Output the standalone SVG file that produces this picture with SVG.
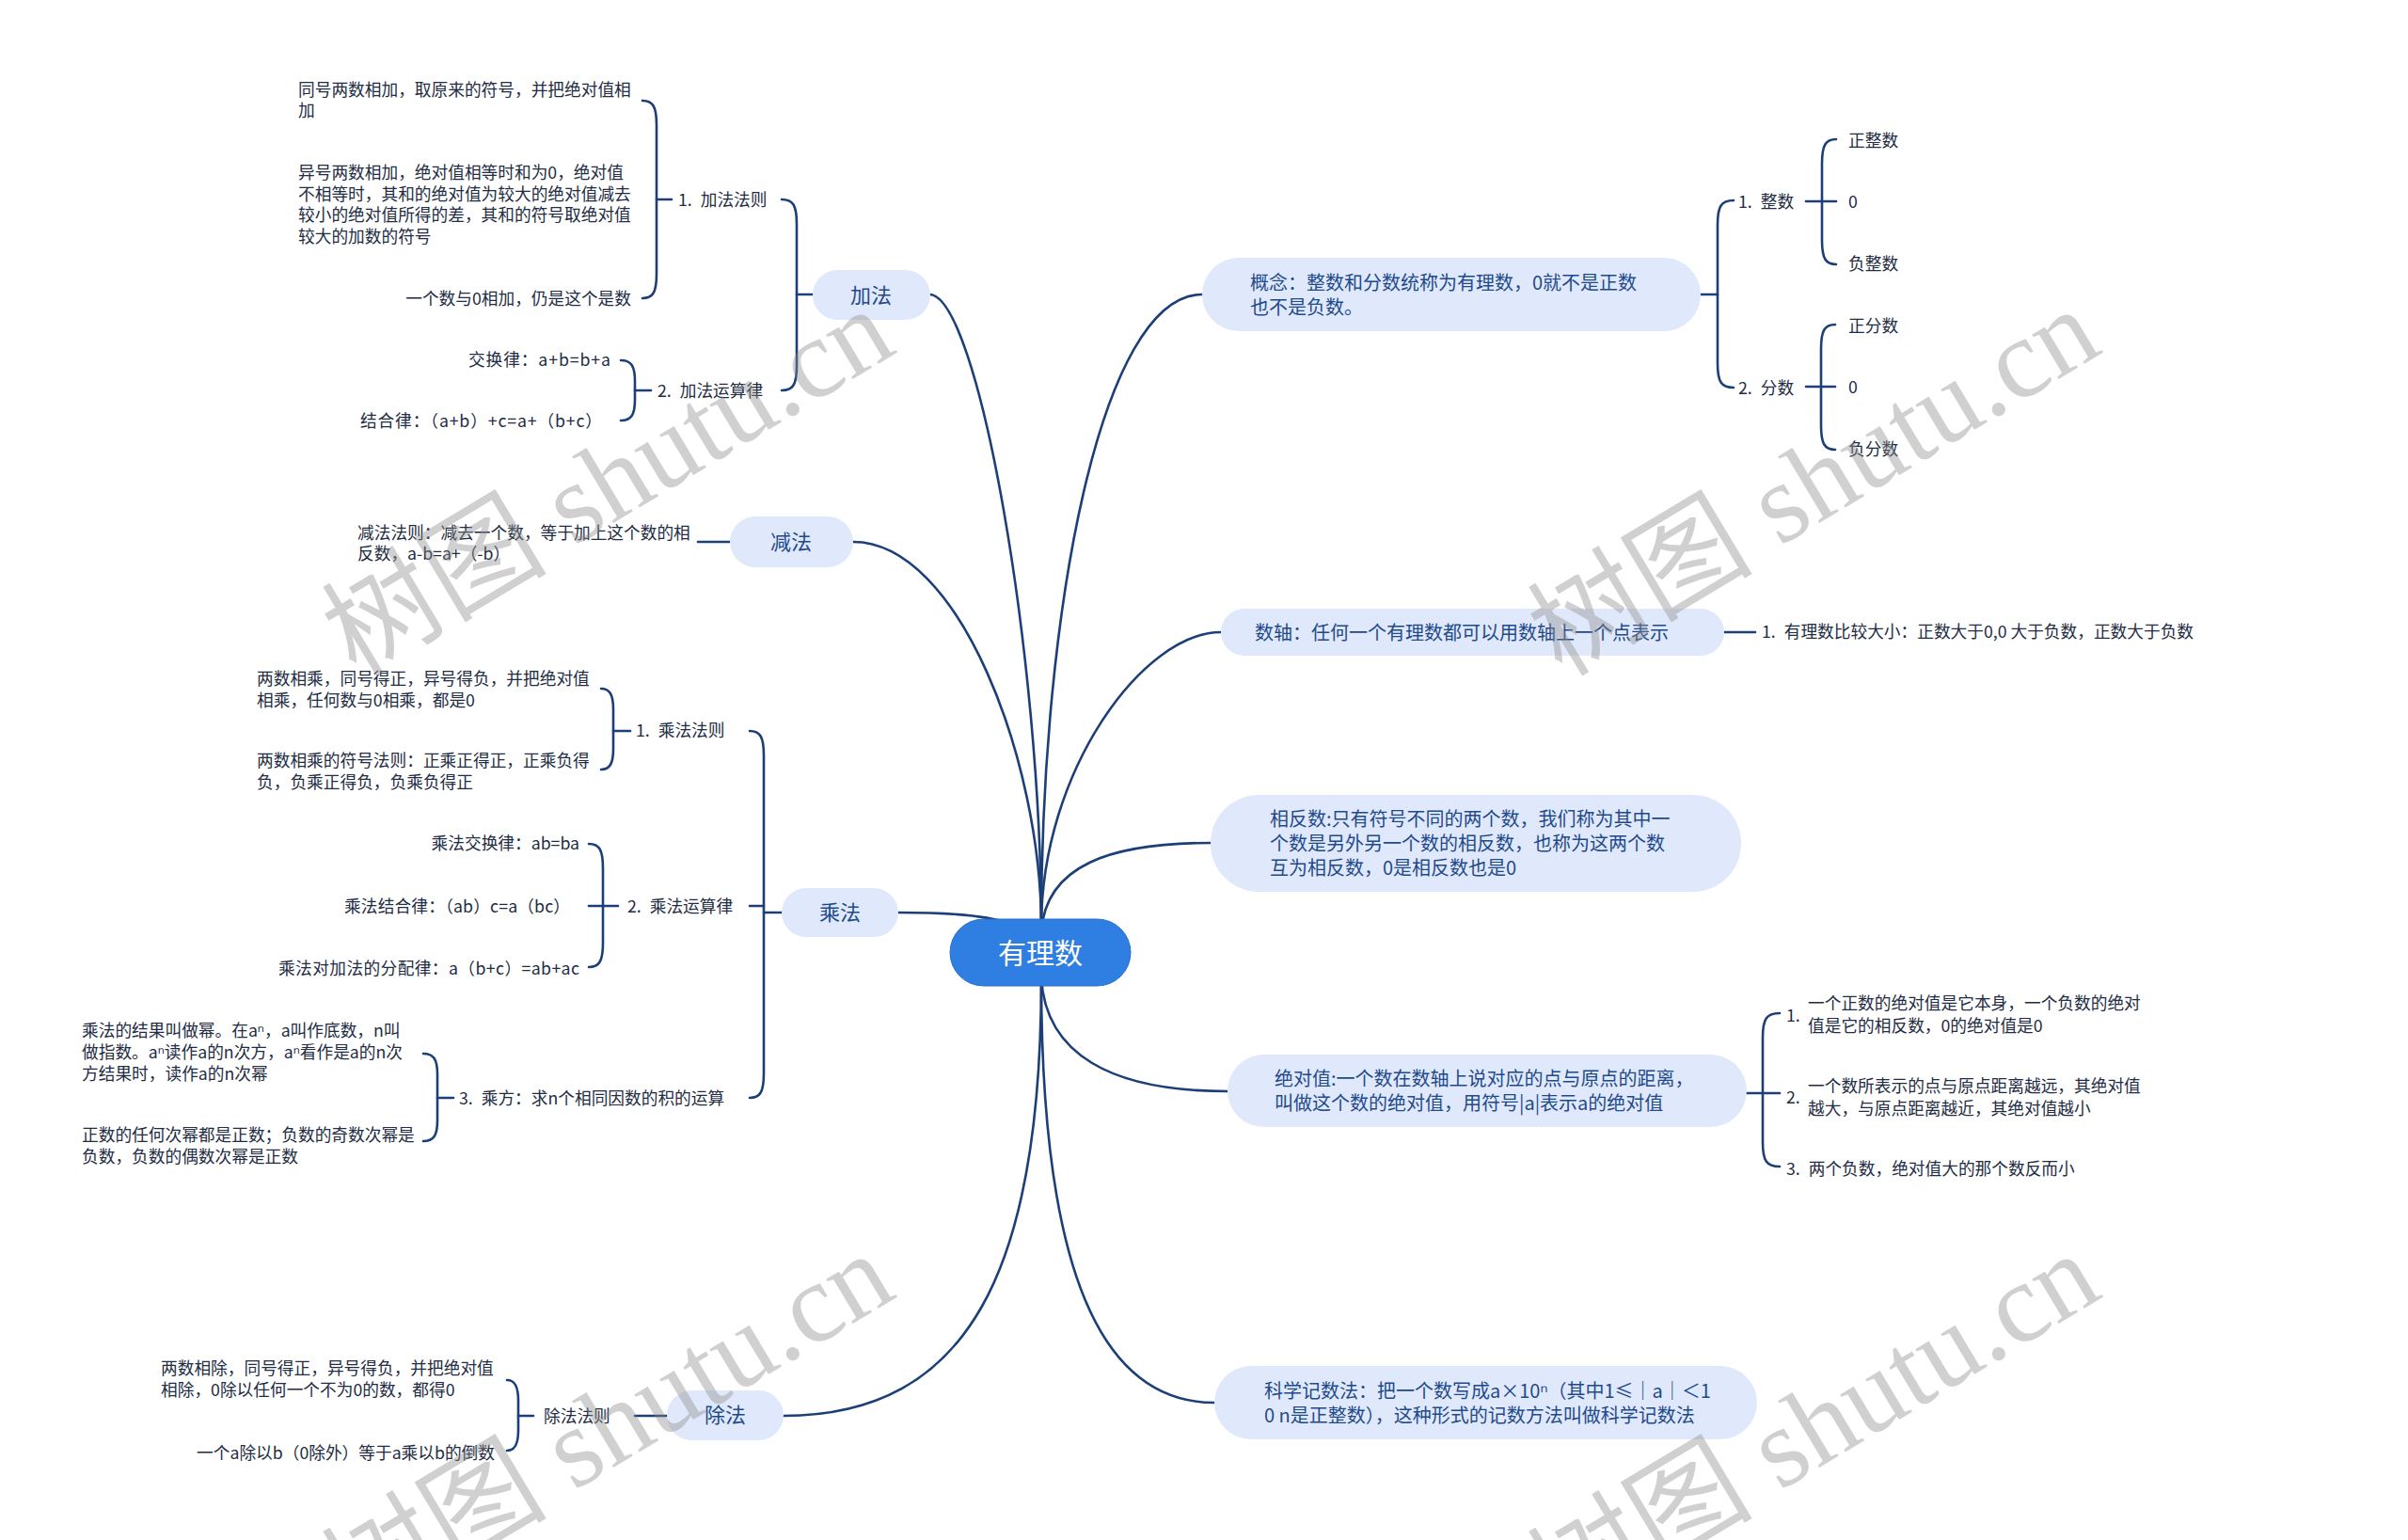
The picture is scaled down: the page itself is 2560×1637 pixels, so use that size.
<svg xmlns="http://www.w3.org/2000/svg" width="2560" height="1637" viewBox="0 0 2560 1637">
<style>
.conn{fill:none;stroke:#1c3f78;stroke-width:2.6;stroke-linecap:round}
.br{fill:none;stroke:#1c3f78;stroke-width:2.6;stroke-linecap:round}
.box{fill:#e0e9fb}
.nt{font-family:"Noto Sans CJK SC","Noto Sans",sans-serif;font-size:20px;fill:#1f4a8c}
.mt{font-family:"Noto Sans CJK SC","Noto Sans",sans-serif;font-size:22px;fill:#1f4a8c;text-anchor:middle}
.lt{font-family:"Noto Sans CJK SC","Noto Sans",sans-serif;font-size:17.7px;fill:#222c44}
.end{text-anchor:end}
.wm{font-family:"Liberation Serif","Noto Sans CJK SC",serif;font-size:120px;fill:#8c8c8c;opacity:0.4;text-anchor:middle}
</style>
<rect width="2560" height="1637" fill="#ffffff"/>
<g id="connectors">
<path class="conn" d="M988 313 C1040 313 1107 700 1107 985"/>
<path class="conn" d="M907 576 C1020 576 1107 810 1107 985"/>
<path class="conn" d="M955 970 C1030 970 1080 975 1107 1000"/>
<path class="conn" d="M1278 313 C1170 313 1107 650 1107 985"/>
<path class="conn" d="M1298 672 C1215 672 1107 820 1107 985"/>
<path class="conn" d="M1287 896 C1180 896 1112 920 1107 990"/>
<path class="conn" d="M1107 1040 C1112 1120 1180 1160 1305 1160"/>
<path class="conn" d="M1107 1040 C1107 1350 1170 1491 1291 1491"/>
<path class="conn" d="M1107 1040 C1107 1350 1030 1505 833 1505"/>
<path class="br" d="M1808 313 H1826"/>
<path class="br" d="M1843 213 C1830 213 1826 219 1826 239 L1826 386 C1826 406 1830 412 1843 412"/>
<path class="br" d="M1920 214 H1952"/>
<path class="br" d="M1952 148 C1941 148 1937 154 1937 174 L1937 255 C1937 275 1941 281 1952 281"/>
<path class="br" d="M1920 411 H1951"/>
<path class="br" d="M1951 345 C1940 345 1936 351 1936 371 L1936 452 C1936 472 1940 478 1951 478"/>
<path class="br" d="M1833 672 H1866"/>
<path class="br" d="M1857 1162 H1892"/>
<path class="br" d="M1892 1077 C1878 1077 1874 1083 1874 1103 L1874 1214 C1874 1234 1878 1240 1892 1240"/>
<path class="br" d="M864 313 H847"/>
<path class="br" d="M831 212 C843 212 847 218 847 238 L847 389 C847 409 843 415 831 415"/>
<path class="br" d="M698 212 H714"/>
<path class="br" d="M683 107 C694 107 698 113 698 133 L698 291 C698 311 694 317 683 317"/>
<path class="br" d="M675 415 H692"/>
<path class="br" d="M660 383 C671 383 675 389 675 405 L675 425 C675 441 671 447 660 447"/>
<path class="br" d="M776 576 H742"/>
<path class="br" d="M831 970 H812"/>
<path class="br" d="M812 963 H797"/>
<path class="br" d="M797 777 C808 777 812 783 812 803 L812 1141 C812 1161 808 1167 797 1167"/>
<path class="br" d="M652 777 H670"/>
<path class="br" d="M639 732 C648 732 652 738 652 754 L652 796 C652 812 648 818 639 818"/>
<path class="br" d="M626 963 H657"/>
<path class="br" d="M626 897 C637 897 641 903 641 923 L641 1002 C641 1022 637 1028 626 1028"/>
<path class="br" d="M465 1167 H482"/>
<path class="br" d="M450 1120 C461 1120 465 1126 465 1142 L465 1191 C465 1207 461 1213 450 1213"/>
<path class="br" d="M709 1505 H675"/>
<path class="br" d="M551 1505 H567"/>
<path class="br" d="M539 1467 C547 1467 551 1473 551 1489 L551 1520 C551 1536 547 1542 539 1542"/>
</g>
<g id="root">
<rect x="1010" y="977" width="192" height="71" rx="35.5" fill="#2f7ee2" stroke="#2a6fcf" stroke-width="1"/>
<text x="1106" y="1024" font-family="Noto Sans CJK SC,sans-serif" font-size="30" fill="#ffffff" text-anchor="middle">有理数</text>
</g>
<g id="node-jiafa">
<rect class="box" x="864" y="287" width="125" height="53" rx="26.5"/>
<text class="mt" x="926" y="322">加法</text>
</g>
<g id="node-jiafa-rule">
<text class="lt" x="721" y="218.5">1.<tspan dx="9">加法法则</tspan></text>
</g>
<g id="leaf-jiafa-1">
<text class="lt" x="317" y="101.5">同号两数相加，取原来的符号，并把绝对值相</text>
<text class="lt" x="317" y="123.5">加</text>
</g>
<g id="leaf-jiafa-2">
<text class="lt" x="317" y="189.5">异号两数相加，绝对值相等时和为0，绝对值</text>
<text class="lt" x="317" y="212.5">不相等时，其和的绝对值为较大的绝对值减去</text>
<text class="lt" x="317" y="234.5">较小的绝对值所得的差，其和的符号取绝对值</text>
<text class="lt" x="317" y="257.5">较大的加数的符号</text>
</g>
<g id="leaf-jiafa-3">
<text class="lt end" x="671" y="323.5">一个数与0相加，仍是这个是数</text>
</g>
<g id="node-jiafa-law">
<text class="lt" x="699" y="421.5">2.<tspan dx="9">加法运算律</tspan></text>
</g>
<g id="leaf-jiafa-law-1">
<text class="lt" x="498" y="388.5" textLength="151" lengthAdjust="spacing">交换律：a+b=b+a</text>
</g>
<g id="leaf-jiafa-law-2">
<text class="lt" x="383" y="453.5" textLength="257" lengthAdjust="spacing">结合律：（a+b）+c=a+（b+c）</text>
</g>
<g id="node-jianfa">
<rect class="box" x="776" y="549" width="131" height="54" rx="27"/>
<text class="mt" x="841" y="584">减法</text>
</g>
<g id="leaf-jianfa">
<text class="lt" x="380" y="572.5">减法法则：减去一个数，等于加上这个数的相</text>
<text class="lt" x="380" y="594.5">反数，a-b=a+（-b）</text>
</g>
<g id="node-chengfa">
<rect class="box" x="831" y="944" width="124" height="52" rx="26"/>
<text class="mt" x="893" y="978">乘法</text>
</g>
<g id="node-chengfa-rule">
<text class="lt" x="676" y="782.5">1.<tspan dx="9">乘法法则</tspan></text>
</g>
<g id="leaf-chengfa-rule-1">
<text class="lt" x="273" y="727.5">两数相乘，同号得正，异号得负，并把绝对值</text>
<text class="lt" x="273" y="750.5">相乘，任何数与0相乘，都是0</text>
</g>
<g id="leaf-chengfa-rule-2">
<text class="lt" x="273" y="814.5">两数相乘的符号法则：正乘正得正，正乘负得</text>
<text class="lt" x="273" y="837.5">负，负乘正得负，负乘负得正</text>
</g>
<g id="node-chengfa-law">
<text class="lt" x="667" y="969.5">2.<tspan dx="9">乘法运算律</tspan></text>
</g>
<g id="leaf-chengfa-law-1">
<text class="lt end" x="616" y="902.5">乘法交换律：ab=ba</text>
</g>
<g id="leaf-chengfa-law-2">
<text class="lt" x="366" y="969.5" textLength="240" lengthAdjust="spacing">乘法结合律：（ab）c=a（bc）</text>
</g>
<g id="leaf-chengfa-law-3">
<text class="lt" x="296" y="1035.5" textLength="320" lengthAdjust="spacing">乘法对加法的分配律：a（b+c）=ab+ac</text>
</g>
<g id="node-chengfang">
<text class="lt" x="488" y="1173.5">3.<tspan dx="9">乘方：求n个相同因数的积的运算</tspan></text>
</g>
<g id="leaf-chengfang-1">
<text class="lt" x="87" y="1101.5">乘法的结果叫做幂。在aⁿ，a叫作底数，n叫</text>
<text class="lt" x="87" y="1124.5">做指数。aⁿ读作a的n次方，aⁿ看作是a的n次</text>
<text class="lt" x="87" y="1147.5">方结果时，读作a的n次幂</text>
</g>
<g id="leaf-chengfang-2">
<text class="lt" x="87" y="1212.5">正数的任何次幂都是正数；负数的奇数次幂是</text>
<text class="lt" x="87" y="1235.5">负数，负数的偶数次幂是正数</text>
</g>
<g id="node-chufa">
<rect class="box" x="709" y="1478" width="124" height="53" rx="26.5"/>
<text class="mt" x="771" y="1512">除法</text>
</g>
<g id="node-chufa-rule">
<text class="lt" x="578" y="1511.5">除法法则</text>
</g>
<g id="leaf-chufa-1">
<text class="lt" x="171" y="1460.5">两数相除，同号得正，异号得负，并把绝对值</text>
<text class="lt" x="171" y="1483.5">相除，0除以任何一个不为0的数，都得0</text>
</g>
<g id="leaf-chufa-2">
<text class="lt end" x="526" y="1550.5">一个a除以b（0除外）等于a乘以b的倒数</text>
</g>
<g id="node-gainian">
<rect class="box" x="1278" y="274" width="530" height="78" rx="39"/>
<text class="nt" x="1329" y="307.5">概念：整数和分数统称为有理数，0就不是正数</text>
<text class="nt" x="1329" y="333.5">也不是负数。</text>
</g>
<g id="node-zhengshu">
<text class="lt" x="1848" y="220.5">1.<tspan dx="9">整数</tspan></text>
</g>
<g id="leaf-zhengshu">
<text class="lt" x="1965" y="155.5">正整数</text>
<text class="lt" x="1965" y="221">0</text>
<text class="lt" x="1965" y="286.5">负整数</text>
</g>
<g id="node-fenshu">
<text class="lt" x="1848" y="418.5">2.<tspan dx="9">分数</tspan></text>
</g>
<g id="leaf-fenshu">
<text class="lt" x="1965" y="352.5">正分数</text>
<text class="lt" x="1965" y="418">0</text>
<text class="lt" x="1965" y="483.5">负分数</text>
</g>
<g id="node-shuzhou">
<rect class="box" x="1298" y="647" width="535" height="50" rx="25"/>
<text class="nt" x="1334" y="679.5">数轴：任何一个有理数都可以用数轴上一个点表示</text>
</g>
<g id="leaf-shuzhou">
<text class="lt" x="1873" y="677.5">1.<tspan dx="9">有理数比较大小：正数大于0,0 大于负数，正数大于负数</tspan></text>
</g>
<g id="node-xiangfanshu">
<rect class="box" x="1287" y="845" width="564" height="103" rx="51"/>
<text class="nt" x="1350" y="877.5">相反数:只有符号不同的两个数，我们称为其中一</text>
<text class="nt" x="1350" y="903.5">个数是另外另一个数的相反数，也称为这两个数</text>
<text class="nt" x="1350" y="929.5">互为相反数，0是相反数也是0</text>
</g>
<g id="node-jueduizhi">
<rect class="box" x="1305" y="1121" width="552" height="77" rx="38.5"/>
<text class="nt" x="1355" y="1153.5">绝对值:一个数在数轴上说对应的点与原点的距离，</text>
<text class="nt" x="1355" y="1179.5">叫做这个数的绝对值，用符号|a|表示a的绝对值</text>
</g>
<g id="leaf-jueduizhi-1">
<text class="lt" x="1899" y="1085.5">1.</text>
<text class="lt" x="1922" y="1072.5">一个正数的绝对值是它本身，一个负数的绝对</text>
<text class="lt" x="1922" y="1096.5">值是它的相反数，0的绝对值是0</text>
</g>
<g id="leaf-jueduizhi-2">
<text class="lt" x="1899" y="1172.5">2.</text>
<text class="lt" x="1922" y="1160.5">一个数所表示的点与原点距离越远，其绝对值</text>
<text class="lt" x="1922" y="1184.5">越大，与原点距离越近，其绝对值越小</text>
</g>
<g id="leaf-jueduizhi-3">
<text class="lt" x="1899" y="1248.5">3.<tspan dx="9">两个负数，绝对值大的那个数反而小</tspan></text>
</g>
<g id="node-kexue">
<rect class="box" x="1291" y="1452" width="577" height="78" rx="39"/>
<text class="nt" x="1344" y="1485.5">科学记数法：把一个数写成a×10ⁿ（其中1≤｜a｜＜1</text>
<text class="nt" x="1344" y="1511.5">0 n是正整数），这种形式的记数方法叫做科学记数法</text>
</g>
<g id="watermark">
<text class="wm" x="667" y="547" transform="rotate(-31 667 547)">树图 shutu.cn</text>
<text class="wm" x="1949" y="547" transform="rotate(-31 1949 547)">树图 shutu.cn</text>
<text class="wm" x="667" y="1551" transform="rotate(-31 667 1551)">树图 shutu.cn</text>
<text class="wm" x="1949" y="1551" transform="rotate(-31 1949 1551)">树图 shutu.cn</text>
</g>
</svg>
